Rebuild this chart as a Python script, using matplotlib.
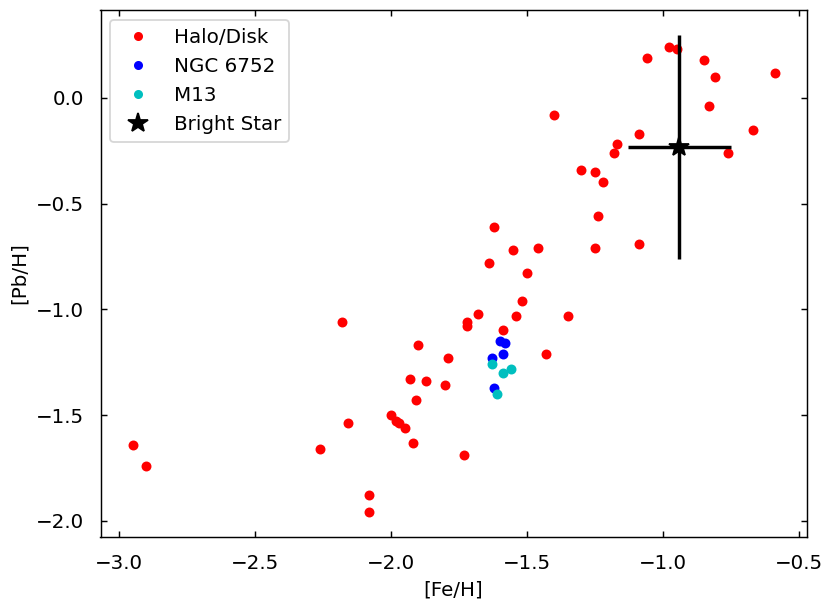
import matplotlib
matplotlib.use("Agg")
import matplotlib.pyplot as plt
from matplotlib.lines import Line2D

plt.rcParams['font.size'] = 11

halo_feh = [-2.95, -2.90, -2.18, -2.16, -2.26, -2.08, -2.08, -2.00, -1.98, -1.97,
            -1.95, -1.92, -1.73, -1.91, -1.93, -1.87, -1.80, -1.79, -1.90, -1.72,
            -1.72, -1.68, -1.59, -1.54, -1.35, -1.43, -1.52, -1.50, -1.64, -1.55,
            -1.46, -1.62, -1.25, -1.24, -1.09, -1.40, -1.30, -1.25, -1.22, -1.18,
            -1.17, -1.09, -1.06, -0.98, -0.95, -0.85, -0.81, -0.83, -0.67, -0.76,
            -0.59]
halo_pbh = [-1.64, -1.74, -1.06, -1.54, -1.66, -1.88, -1.96, -1.50, -1.53, -1.54,
            -1.56, -1.63, -1.69, -1.43, -1.33, -1.34, -1.36, -1.23, -1.17, -1.06,
            -1.08, -1.02, -1.10, -1.03, -1.03, -1.21, -0.96, -0.83, -0.78, -0.72,
            -0.71, -0.61, -0.71, -0.56, -0.69, -0.08, -0.34, -0.35, -0.40, -0.26,
            -0.22, -0.17, 0.19, 0.24, 0.23, 0.18, 0.10, -0.04, -0.15, -0.26,
            0.12]

ngc_feh = [-1.60, -1.58, -1.59, -1.63, -1.62]
ngc_pbh = [-1.15, -1.16, -1.21, -1.23, -1.37]

m13_feh = [-1.63, -1.56, -1.59, -1.61]
m13_pbh = [-1.26, -1.28, -1.30, -1.40]

star_feh = [-0.94]
star_pbh = [-0.23]
star_xerr = [0.19]
star_yerr = [0.53]

fig = plt.figure(figsize=(831 / 130, 605 / 130), dpi=130)
ax = fig.add_axes([100.5 / 831, 1 - 537 / 605, (806.7 - 100.5) / 831, (537 - 10) / 605])

ax.plot(halo_feh, halo_pbh, 'o', color='red', ms=4.5, zorder=3)
ax.plot(ngc_feh, ngc_pbh, 'o', color='blue', ms=4.5, zorder=3)
ax.plot(m13_feh, m13_pbh, 'o', color='c', ms=4.5, zorder=3)
ax.errorbar(star_feh, star_pbh, xerr=star_xerr, yerr=star_yerr, fmt='*',
            color='black', ms=11.5, elinewidth=1.9, capsize=0, zorder=4)

ax.set_xlim(-3.068, -0.472)
ax.set_ylim(-2.077, 0.416)
ax.set_xticks([-3.0, -2.5, -2.0, -1.5, -1.0, -0.5])
ax.set_yticks([-2.0, -1.5, -1.0, -0.5, 0.0])
ax.tick_params(direction='in', top=True, right=True)
ax.tick_params(axis='x', pad=9.6)
ax.tick_params(axis='y', pad=8.9)
ax.set_xlabel('[Fe/H]')
ax.set_ylabel('[Pb/H]')

handles = [
    Line2D([], [], ls='none', marker='o', color='red', ms=4),
    Line2D([], [], ls='none', marker='o', color='blue', ms=4),
    Line2D([], [], ls='none', marker='o', color='c', ms=4),
    Line2D([], [], ls='none', marker='*', color='black', ms=11.5),
]
ax.legend(handles, ['Halo/Disk', 'NGC 6752', 'M13', 'Bright Star'], loc='upper left')

fig.savefig('out.png', dpi=130)
